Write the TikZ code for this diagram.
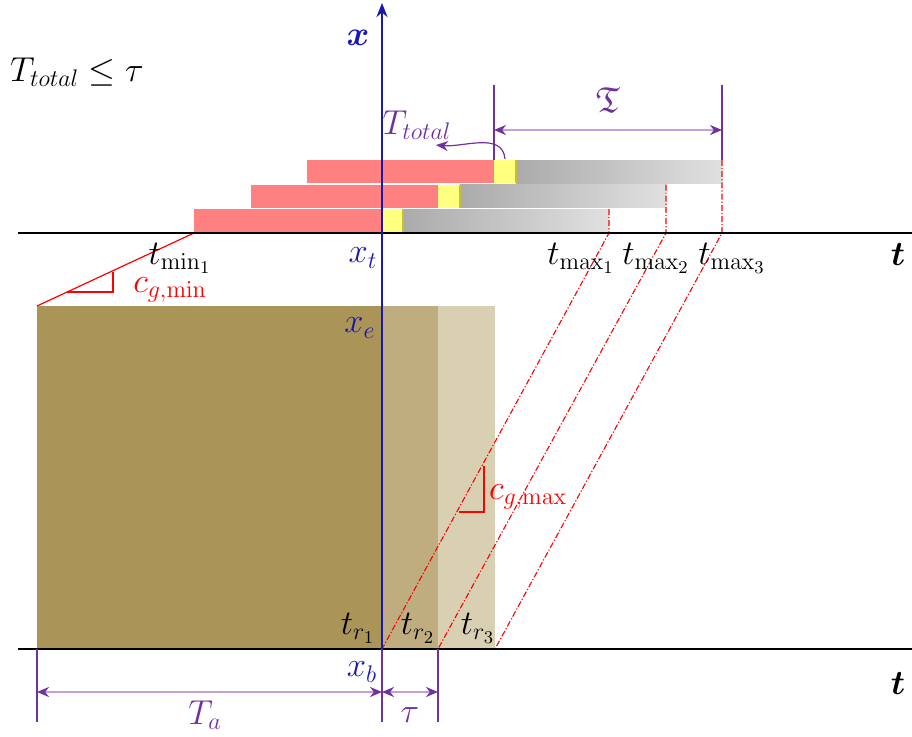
\documentclass[tikz,border=0pt]{standalone}
\usepackage{amsmath,amssymb}
\usepackage{tikz}
\usetikzlibrary{arrows.meta,positioning,calc}
\definecolor{purp}{RGB}{112,48,160}
\definecolor{purpl}{RGB}{196,160,216}
\definecolor{axblue}{RGB}{25,25,175}
\definecolor{pink}{RGB}{255,128,128}
\definecolor{lemon}{RGB}{255,255,128}
\definecolor{soilA}{RGB}{171,148,87}
\definecolor{soilB}{RGB}{191,173,127}
\definecolor{soilC}{RGB}{217,207,178}

\begin{document}
\begin{tikzpicture}[x=0.5pt, y=-0.5pt, >=Stealth, font=\fontsize{18}{21}\selectfont,
	   lab/.style={inner sep=0pt},
	   rb/.style={fill=pink},
	   yb/.style={fill=lemon},
	   gb/.style={left color=gray!66, right color=gray!24},
	   ext/.style={purp, line width=0.6pt},
	   dim/.style={purpl, line width=1.2pt, {Stealth[color=purp,length=6pt,width=5pt]}-{Stealth[color=purp,length=6pt,width=5pt]}},
	   tri/.style={red, line width=0.6pt},
	   dd/.style={red, line width=0.55pt, dash pattern=on 3pt off 1pt on 0.6pt off 1pt}]
	  \useasboundingbox (0,0) rectangle (912,736);
	  % soil
	  \fill[soilA] (37,306) rectangle (382,649);
	  \fill[soilB] (382,306) rectangle (438,649);
	  \fill[soilC] (438,306) rectangle (495,649);
	  % bars
	  \fill[rb] (194,209) rectangle (382,232);
	  \fill[yb] (382,209) rectangle (403,232);
	  \shade[gb] (403,209) rectangle (609,232);
	  \fill[rb] (251,184.5) rectangle (438,207.5);
	  \fill[yb] (438,184.5) rectangle (460,207.5);
	  \shade[gb] (460,184.5) rectangle (666,207.5);
	  \fill[rb] (307,160) rectangle (494,183);
	  \fill[yb] (494,160) rectangle (516,183);
	  \shade[gb] (516,160) rectangle (722,183);
	  \draw[yellow!75!black, line width=0.6pt] (403,209) -- (403,232) (460,184.5) -- (460,207.5) (516,160) -- (516,183);
	  % points
	  \coordinate (g1) at (609,209); \coordinate (m1) at (609,233); \coordinate (r1) at (382,649);
	  \coordinate (g2) at (666,184.5); \coordinate (m2) at (666,233); \coordinate (r2) at (438,649);
	  \coordinate (g3) at (722,160); \coordinate (m3) at (722,233); \coordinate (r3) at (495,649);
	  \coordinate (mn) at (194,233); \coordinate (se) at (37,306);
	  \draw[dd] (g1) -- (m1) -- (r1);
	  \draw[dd] (g2) -- (m2) -- (r2);
	  \draw[dd] (g3) -- (m3) -- (r3);
	  \draw[tri] (mn) -- (se);
	  \draw[tri] (67,292) -- (113,292) -- (113,272);
	  \draw[tri] (459,512) -- (484,512) -- (484,466);
	  % axes
	  \coordinate (ta) at (18,233); \coordinate (tb) at (912,233);
	  \coordinate (ba) at (18,649); \coordinate (bb) at (912,649);
	  \coordinate (xb) at (382,649); \coordinate (xtop) at (382,3);
	  \draw[line width=1.3pt] (ta) -- (tb);
	  \draw[line width=1.3pt] (ba) -- (bb);
	  \draw[axblue, line width=1.2pt, -{Stealth[length=7pt,width=5.5pt]}] (xb) -- (xtop);
	  % dimensions
	  \coordinate (ea) at (37,722); \coordinate (eb) at (382,722); \coordinate (ec) at (438,722);
	  \draw[ext] (se |- xb) -- (ea);
	  \draw[ext] (xb) -- (eb);
	  \draw[ext] (r2) -- (ec);
	  \draw[dim] (37,692) -- (382,692);
	  \draw[dim] (382,692) -- (438,692);
	  \coordinate (fa) at (494,85); \coordinate (fb) at (722,85);
	  \draw[ext] (fa) -- (494,160);
	  \draw[ext] (fb) -- (g3);
	  \draw[dim] (494,130) -- (722,130);
	  % labels
	  \node[lab] (cond) at (77,72) {$T_{total}\leq\tau$};
	  \node[lab, axblue] (xl) at (358,38) {$\boldsymbol{x}$};
	  \node[lab, purp] (frak) at (608,100) {$\mathfrak{T}$};
	  \node[lab, purp] (tt) at (417,125) {$T_{total}$};
	  \draw[purp, line width=0.6pt, -{Stealth[length=6pt,width=5pt]}] (505,159) to[out=95, in=-5] (436,145);
	  \node[lab] (tmin) at (180,258) {$t_{\min_1}$};
	  \node[lab, axblue] (xt) at (363,258) {$x_t$};
	  \node[lab] (tm1) at (581,258) {$t_{\max_1}$};
	  \node[lab] (tm2) at (656,258) {$t_{\max_2}$};
	  \node[lab] (tm3) at (732,258) {$t_{\max_3}$};
	  \node[lab] (t1) at (898,255) {$\boldsymbol{t}$};
	  \node[lab] (t2) at (898,684) {$\boldsymbol{t}$};
	  \node[lab, red] (cgmin) at (170,290) {$c_{g,\min}$};
	  \node[lab, red] (cgmax) at (528,497) {$c_{g,\max}$};
	  \node[lab, axblue] (xe) at (360,328) {$x_e$};
	  \node[lab] (tr1) at (358,628) {$t_{r_1}$};
	  \node[lab] (tr2) at (418,628) {$t_{r_2}$};
	  \node[lab] (tr3) at (478,628) {$t_{r_3}$};
	  \node[lab, axblue] (xbl) at (362,672) {$x_b$};
	  \node[lab, purp] (tal) at (205,715) {$T_a$};
	  \node[lab, purp] (tau) at (410,715) {$\tau$};
	\end{tikzpicture}
\end{document}
